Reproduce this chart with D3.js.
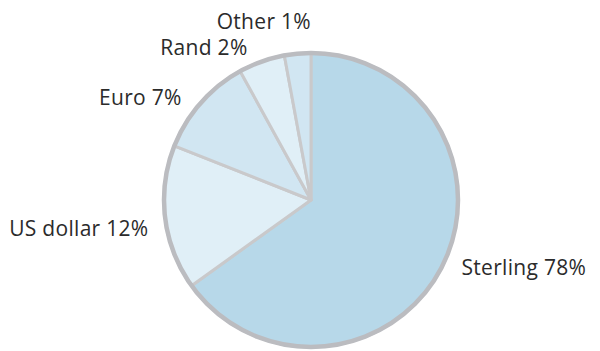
<!DOCTYPE html>
<html lang="en">
<head>
    <meta charset="UTF-8">
    <title>Currency split</title>
    <script src="https://d3js.org/d3.v7.min.js"></script>
    <style>
        body { margin: 0; background: #fff; }
        text { font-family: "Open Sans", sans-serif; font-size: 21px; letter-spacing: 0.3px; fill: #2b2b2b; }
    </style>
</head>
<body>
<svg id="pie-chart" width="600" height="351"></svg>
<script>
// slice order goes clockwise from 12 o'clock
const currencies = ["Sterling", "US dollar", "Euro", "Rand", "Other"];
const labelPct = [78, 12, 7, 2, 1];              // percentages printed in the labels
const sliceShare = [65.1, 15.9, 11.0, 5.1, 2.9]; // slice sizes as drawn in the picture
const fills = ["#b7d8e9", "#e0eff7", "#d1e6f2", "#e0eff7", "#d1e6f2"];

const width = 600;
const height = 351;
const cx = 311, cy = 200;
const radius = 147;

const data = currencies.map((c, i) => ({ name: c, pct: labelPct[i], share: sliceShare[i], fill: fills[i] }));

const svg = d3.select("#pie-chart")
  .attr("width", width)
  .attr("height", height);

const g = svg.append("g")
  .attr("transform", `translate(${cx},${cy})`);

const pie = d3.pie()
  .sort(null)
  .value(d => d.share);

const path = d3.arc()
  .outerRadius(radius)
  .innerRadius(0);

const arcs = pie(data);

g.selectAll(".slice")
  .data(arcs)
  .enter().append("path")
  .attr("class", "slice")
  .attr("d", path)
  .attr("fill", d => d.data.fill)
  .attr("stroke", "#c9c9cb")
  .attr("stroke-width", 3)
  .attr("stroke-linejoin", "round");

// thicker grey rim
g.append("circle")
  .attr("r", radius)
  .attr("fill", "none")
  .attr("stroke", "#bbbcc0")
  .attr("stroke-width", 4.5);

// labels sit outside the pie, near each slice's mid angle
const labelR = 165;
const labelTurn = -3 * Math.PI / 180;
const placed = [];
arcs.forEach(d => {
  const a = (d.startAngle + d.endAngle) / 2 + labelTurn;
  let x = Math.sin(a) * labelR;
  let y = -Math.cos(a) * labelR;
  const right = x > 0;
  const t = g.append("text")
    .attr("text-anchor", right ? "start" : "end")
    .attr("dy", "0.35em")
    .text(`${d.data.name} ${d.data.pct}%`);
  // push a crowded label upwards so it clears the one before it
  const prev = placed[placed.length - 1];
  if (prev && !right && Math.abs(prev.y - y) < 26) {
    y = prev.y - 26;
    x = Math.sin(d.endAngle) * labelR;
  }
  t.attr("x", x).attr("y", y);
  placed.push({ x, y });
});
</script>
</body>
</html>
